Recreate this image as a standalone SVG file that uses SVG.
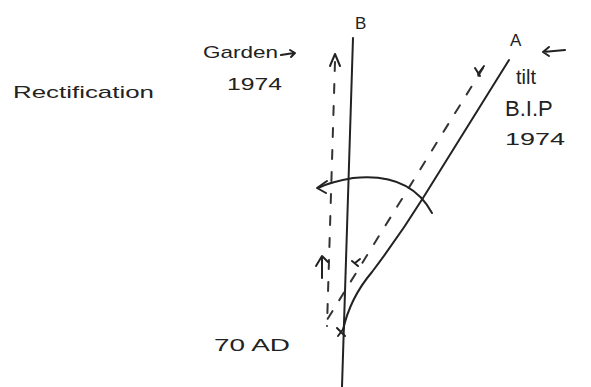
<svg xmlns="http://www.w3.org/2000/svg" width="591" height="387" viewBox="0 0 591 387">
<style>
.s{fill:none;stroke:#222;stroke-width:2;stroke-linecap:round;stroke-linejoin:round}
.d{fill:none;stroke:#333;stroke-width:2;stroke-linecap:round;stroke-dasharray:9 13}
.t{font-family:"Liberation Sans",sans-serif;fill:#222;font-size:17px}
</style>
<rect width="591" height="387" fill="#fff"/>
<g id="connectors">
<path class="s" d="M353,38 L342,387"/>
<path class="s" d="M509,60 L423,198 Q400,235 372,272 Q350,298 343,330"/>
<path class="d" d="M483,68 L322,328"/>
<path class="s" d="M478,74 L484,66 M475,68 L480,76"/>
<path class="d" d="M335,62 L327,326"/>
<path class="s" d="M330,66 L335,54 L340,66"/>
<path class="s" d="M432,213 Q410,172 353,178 Q330,182 318,188"/>
<path class="s" d="M327,181 L317,188 L326,193"/>
<path class="s" d="M322,278 L322,258 M316,266 L322,256 L328,262"/>
<path class="s" d="M355,263 L360,259 M352,261 L358,266"/>
<path class="s" d="M337,328 L345,336 M344,328 L338,336"/>
</g>
<g id="labels">
<text class="t" x="13" y="98" textLength="141" lengthAdjust="spacingAndGlyphs">Rectification</text>
<text class="t" x="203" y="58" textLength="75" lengthAdjust="spacingAndGlyphs">Garden</text>
<path class="s" d="M281,55 L294,53 M290,50 L295,53 L291,57"/>
<text class="t" x="227" y="90" textLength="55" lengthAdjust="spacingAndGlyphs">1974</text>
<text class="t" x="355" y="29">B</text>
<text class="t" x="510" y="46">A</text>
<path class="s" d="M543,52 L565,50 M549,47 L543,52 L549,56"/>
<text class="t" x="516" y="84" style="font-size:20px">tilt</text>
<text class="t" x="505" y="116" style="font-size:22px">B.I.P</text>
<text class="t" x="505" y="145" textLength="60" lengthAdjust="spacingAndGlyphs">1974</text>
<text class="t" x="214" y="351" textLength="76" lengthAdjust="spacingAndGlyphs">70 AD</text>
</g>
</svg>
